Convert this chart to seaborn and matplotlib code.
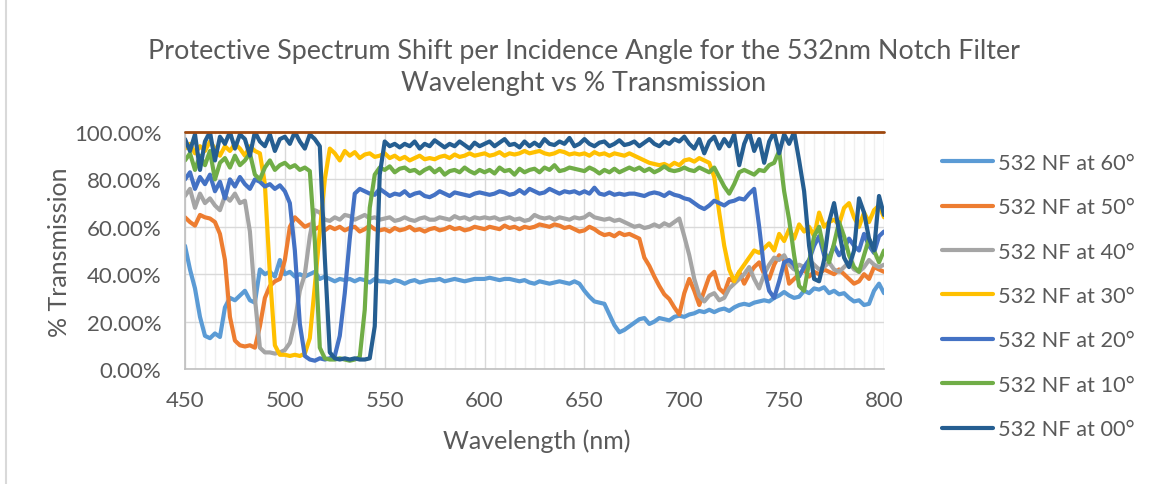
import numpy as np
import pandas as pd
import matplotlib
matplotlib.use("Agg")
import matplotlib.pyplot as plt
from matplotlib.lines import Line2D
from matplotlib.ticker import FuncFormatter, MultipleLocator
import seaborn as sns

# Sample grid of the spectrometer export (nm)
wavelength_nm = np.arange(450, 800.01, 2.5)

# % transmission per incidence angle, one value per 2.5 nm step
nf_60 = [52, 42, 34, 22, 14, 13, 15, 13.5, 26, 30,
         29, 31, 33, 29, 28, 42, 40, 41, 39, 46,
         40, 41, 39, 40, 39, 40, 41, 38, 39, 38,
         37, 38, 37.5, 38, 37, 38, 37.5, 36.5, 38, 37,
         37, 36.5, 37.5, 37, 36, 37, 37.5, 36.5, 37, 37.5,
         37.5, 38, 37, 37.5, 38, 37.5, 37, 37.5, 38, 38,
         38, 38.5, 38, 37.5, 38, 38, 37.5, 37, 37.5, 36.5,
         36, 37, 36.5, 36, 36.5, 37, 36.5, 36, 37, 36,
         33, 30.5, 28.5, 28, 27.5, 23, 18.5, 15.5, 16.5, 18,
         19.5, 21, 21.5, 19, 20, 21.5, 21, 20.5, 22, 22.5,
         22, 23, 23.5, 24.5, 24, 25, 24, 25, 25.5, 24.5,
         26, 27, 27.5, 27, 28, 28.5, 29, 28.5, 30, 31,
         32.5, 31, 30, 30.5, 33, 32, 34, 33.5, 34.5, 32,
         33, 31.5, 32, 30, 28.5, 29, 27, 27.5, 33, 36,
         32]

nf_50 = [64, 62, 60.5, 65, 64, 63.5, 62, 57, 46, 22,
         12, 10, 9.5, 10, 9, 18, 30, 35, 37, 38,
         46, 60, 64, 62, 60, 61, 59, 60, 58.5, 60,
         59, 60, 58.5, 59.5, 60, 58, 59, 60.5, 59, 58.5,
         59, 58, 59.5, 58.5, 59, 60, 58.5, 59, 58, 59,
         59.5, 58.5, 59, 60, 59, 59.5, 58.5, 59, 60, 59.5,
         59, 60, 59.5, 59, 60.5, 59.5, 60, 59, 60, 59.5,
         60, 61, 60.5, 60, 61, 60.5, 59.5, 60, 59, 58,
         58.5, 60, 59, 57.5, 56.5, 57, 56, 57.5, 56.5, 57,
         56, 55, 47, 43.5, 39, 35, 31.5, 29.5, 26, 23,
         32, 38, 33, 27, 33, 39, 41, 34, 32, 38,
         37, 41, 36, 40, 43, 45, 40, 38, 44, 48,
         46, 36, 38, 40, 42, 39, 41, 40, 42, 41,
         40, 42, 40, 38, 36, 37, 40, 38, 43, 42,
         41]

nf_40 = [73, 76, 68, 74, 70, 72, 69, 67, 73, 71,
         74, 70, 71, 58, 30, 9, 7, 7, 6.5, 7,
         8, 11, 20, 33, 40, 56, 67, 66, 63, 62.5,
         64, 63, 65, 64.5, 63, 64, 65, 63.5, 64, 63,
         63.5, 64, 62.5, 63, 64, 63, 62.5, 63.5, 64, 63,
         63, 64, 63.5, 63, 64.5, 63.5, 64, 63, 64, 63.5,
         64, 63.5, 64, 63, 63.5, 64, 63, 63.5, 62.5, 63,
         65, 64, 63.5, 64, 63, 64, 63.5, 63, 64, 63.5,
         64, 65.5, 64, 63.5, 63, 63.5, 62.5, 63, 62, 61,
         60, 60.5, 59.5, 60, 61, 60, 61.5, 60.5, 62, 63.5,
         56, 48, 38, 31, 28.5, 31, 32, 29, 30, 34,
         36, 38, 40, 43, 38, 34, 40, 44, 47, 46,
         48, 44, 42, 44, 43, 46, 44, 42, 43, 45,
         42, 41, 43, 45, 42, 41, 43, 46, 44, 43,
         44]

nf_30 = [93, 95, 91, 94, 92, 96, 93, 90, 94, 92,
         95, 93, 90, 94, 92, 91, 78, 40, 10, 6,
         6, 5.5, 6, 5.5, 6.5, 13, 35, 58, 80, 93,
         91, 88, 92, 90, 91.5, 89, 90.5, 91, 89.5, 90,
         91, 89, 90, 88.5, 89.5, 88, 89, 90, 88.5, 89,
         88.5, 89.5, 90, 89, 90.5, 89.5, 90, 91, 90, 90.5,
         91, 90, 90.5, 91.5, 90, 91, 90.5, 91, 92, 91,
         91.5, 92, 91, 90.5, 91, 92, 91.5, 90.5, 91, 90.5,
         91, 90, 91.5, 90.5, 91, 90, 91, 90.5, 90, 91,
         90, 89, 88, 87, 86.5, 86, 86.5, 85.5, 87, 86,
         88, 88.5, 87.5, 89, 88, 87, 81, 66, 52, 42,
         37, 41, 44, 47, 50, 49, 51, 53, 50, 57,
         54, 59, 55, 61, 58, 60, 56, 66, 60, 62,
         63, 61, 68, 70, 64, 60, 66, 62, 67, 69,
         64]

nf_20 = [80, 83, 76, 81, 78, 82, 75, 79, 72, 80,
         77, 81, 78, 76, 80, 79, 77, 78, 76, 77.5,
         75, 70, 50, 19, 5.5, 4, 3.5, 4.5, 4, 4.5,
         5.5, 14, 32, 55, 74, 76, 75, 74, 73.5, 76,
         74.5, 73, 74, 73.5, 75, 73, 74, 74.5, 73, 72.5,
         73.5, 75, 74, 73, 74.5, 74, 73.5, 73, 74, 74.5,
         74, 73.5, 74, 75, 74.5, 73.5, 74, 75.5, 74, 76,
         75, 74, 74.5, 76, 75, 74, 75, 74.5, 75, 74,
         75, 74, 76.5, 74, 73.5, 74.5, 73.5, 74, 73.5, 74,
         74, 73.5, 73, 74, 74.5, 74, 73, 74.5, 73.5, 73,
         72, 71.5, 70, 68.5, 67.5, 69, 71, 70, 69, 70.5,
         71, 72, 71.5, 74, 76, 60, 42, 33, 30, 37,
         45, 46, 44, 39, 43, 46, 52, 56, 48, 47,
         52, 48, 51, 55, 52, 50, 57, 52, 49, 56,
         58]

nf_10 = [88, 91, 84, 90, 86, 92, 80, 87, 89, 85,
         90, 86, 88, 91, 82, 80, 85, 88, 84, 86,
         87, 85, 86, 84, 85, 83.5, 54, 9, 4.5, 4,
         4, 4.5, 4, 3.5, 4, 5, 25, 68, 82, 85,
         84, 85.5, 83, 84.5, 85, 83.5, 84, 82.5, 84, 85,
         83, 84.5, 82, 83.5, 84, 83, 85, 83.5, 82.5, 84,
         83, 84, 82.5, 85, 83.5, 84, 82, 84.5, 83, 84,
         84.5, 83, 85, 84, 86, 83.5, 84, 85, 84.5, 84,
         83.5, 85, 84, 82.5, 84, 83, 84.5, 83, 84, 85,
         84, 85, 83.5, 84.5, 83, 84, 85.5, 84, 83.5, 84,
         85, 84, 83.5, 85, 84, 83, 85, 81, 77, 74,
         78, 83, 84, 83, 82, 84, 83.5, 86, 87, 92,
         75, 63, 48, 35, 33, 45, 56, 60, 50, 45,
         53, 62, 56, 48, 43, 41, 48, 55, 50, 45,
         50]

nf_00 = [97, 92, 99, 84, 96, 100, 88, 98, 95, 100,
         93, 99, 97, 90, 100, 96, 94, 99, 92, 97,
         98, 95, 100, 96, 93, 99, 97, 94, 47, 7,
         4.5, 4, 4.5, 4, 4.5, 4, 4, 4.5, 18, 82,
         96, 94, 95, 93.5, 95, 94, 96, 93, 95, 94,
         96.5, 95, 93.5, 95, 94, 96, 94.5, 93, 95.5, 94,
         95, 96, 94, 95.5, 97, 94.5, 95, 93.5, 96, 94,
         95.5, 94, 97, 95, 94.5, 96, 95, 97.5, 94, 95,
         97, 95, 94, 95.5, 96, 94, 95, 96.5, 94.5, 95,
         96, 94, 95.5, 97, 95, 94, 96, 95, 97, 96,
         98, 95, 93, 97, 91, 96, 98, 93, 97, 94,
         99, 86, 95, 100, 92, 97, 87, 96, 100, 91,
         99, 95, 100, 88, 75, 52, 38, 37, 46, 62,
         70, 58, 47, 43, 50, 72, 66, 55, 50, 73,
         65]

series_labels = ["532 NF at 60°", "532 NF at 50°", "532 NF at 40°",
                 "532 NF at 30°", "532 NF at 20°", "532 NF at 10°",
                 "532 NF at 00°"]
series_values = [nf_60, nf_50, nf_40, nf_30, nf_20, nf_10, nf_00]
series_colors = ["#5B9BD5", "#ED7D31", "#A5A5A5", "#FFC000",
                 "#4472C4", "#70AD47", "#255E91"]

# Full-transmission reference trace
ceiling_nm = [450, 800]
ceiling_pct = [100, 100]

title_lines = ["Protective Spectrum Shift per Incidence Angle for the 532nm Notch Filter",
               "Wavelenght vs % Transmission"]

sns.set_theme(style="white")
plt.rcParams["font.family"] = ["Lato", "DejaVu Sans"]
text_color = "#595959"

long_df = pd.concat(
    [pd.DataFrame({"Wavelength": wavelength_nm,
                   "Transmission": np.asarray(vals, dtype=float) / 100.0,
                   "Series": label})
     for label, vals in zip(series_labels, series_values)],
    ignore_index=True)

W, H = 1151, 485
fig = plt.figure(figsize=(W / 100, H / 100), dpi=100)
fig.patch.set_facecolor("white")
ax = fig.add_axes([185 / W, 1 - 370 / H, (884 - 185) / W, (370 - 133) / H])

sns.lineplot(data=long_df, x="Wavelength", y="Transmission", hue="Series",
             hue_order=series_labels, palette=series_colors, estimator=None,
             sort=False, linewidth=3.0, legend=False, ax=ax)
ax.plot(ceiling_nm, np.asarray(ceiling_pct) / 100.0, color="#9E480E",
        linewidth=2.0, clip_on=False, zorder=5)

ax.set_xlim(450, 800)
ax.set_ylim(0, 1.0)
ax.xaxis.set_major_locator(MultipleLocator(50))
ax.xaxis.set_minor_locator(MultipleLocator(5))
ax.yaxis.set_major_locator(MultipleLocator(0.2))
ax.yaxis.set_major_formatter(FuncFormatter(lambda v, _: f"{v * 100:.2f}%"))
ax.grid(which="major", axis="both", color="#D9D9D9", linewidth=1.0)
ax.grid(which="minor", axis="x", color="#EFEFEF", linewidth=1.0)
ax.set_axisbelow(True)
for side in ("top", "right"):
    ax.spines[side].set_visible(False)
for side in ("left", "bottom"):
    ax.spines[side].set_color("#BFBFBF")
    ax.spines[side].set_linewidth(1.2)
ax.tick_params(axis="both", which="both", length=0, labelsize=16,
               labelcolor=text_color)
ax.tick_params(axis="x", pad=15)
ax.tick_params(axis="y", pad=17)
ax.set_xlabel("")
ax.set_ylabel("")

fig.text(537 / W, 1 - 441 / H, "Wavelength (nm)", ha="center", va="center",
         fontsize=18, color=text_color)
fig.text(60 / W, 1 - 252 / H, "% Transmission", ha="center", va="center",
         rotation=90, fontsize=18, color=text_color)
fig.text(584 / W, 1 - 52 / H, title_lines[0], ha="center", va="center",
         fontsize=19.4, color=text_color)
fig.text(584 / W, 1 - 83 / H, title_lines[1], ha="center", va="center",
         fontsize=19.4, color=text_color)

handles = [Line2D([], [], color=c, linewidth=3.0) for c in series_colors]
fig.legend(handles, series_labels, loc="center left",
           bbox_to_anchor=(942 / W, 1 - 297 / H), frameon=False,
           fontsize=15.7, handlelength=2.35, handletextpad=0.22,
           labelspacing=1.12, labelcolor=text_color, borderaxespad=0,
           borderpad=0)

fig.add_artist(Line2D([6 / W, 6 / W], [0, 1], transform=fig.transFigure,
                      color="#D9D9D9", linewidth=1.5))

fig.savefig("out.png", dpi=100, facecolor="white")
